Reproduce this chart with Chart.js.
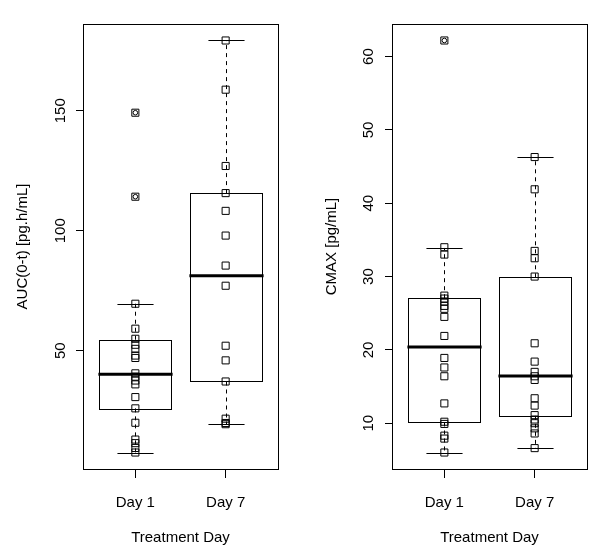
<!DOCTYPE html>
<html>
<head>
<meta charset="utf-8">
<title>AUC and CMAX by treatment day</title>
<script src="https://cdn.jsdelivr.net/npm/chart.js@4.4.1/dist/chart.umd.min.js"></script>
<style>
  html, body { margin: 0; padding: 0; background: #fff; }
  #wrap { position: relative; width: 600px; height: 558px; }
  .panel { position: absolute; top: 0; width: 300px; height: 558px; }
</style>
</head>
<body>
<div id="wrap">
  <div class="panel" style="left:0"><canvas id="auc" width="300" height="558"></canvas></div>
  <div class="panel" style="left:300px"><canvas id="cmax" width="300" height="558"></canvas></div>
</div>
<script>
'use strict';

var days = ['Day 1', 'Day 7'];

// AUC(0-t) panel, values
var aucDay1 = [69.6, 59.2, 55.0, 52.5, 50.8, 48.0, 47.0, 40.6, 39.2, 37.6, 36.0, 30.7, 26.0, 20.0, 13.0, 11.5, 9.5, 7.6, 149.2, 114.2];
var aucDay7 = [179.3, 158.8, 127.0, 115.7, 108.3, 98.0, 85.5, 77.1, 52.1, 46.0, 37.2, 21.7, 19.9, 19.4];
var aucOutliers = [[149.2, 114.2], []];
// lower whisker, q1, median, q3, upper whisker
var aucStats = [[7.6, 26.0, 40.2, 54.6, 69.6], [19.4, 37.2, 81.3, 115.7, 179.3]];
var aucTicks = [50, 100, 150];

// CMAX panel
var cmaxDay1 = [62.2, 34.0, 33.0, 27.4, 27.0, 26.6, 26.0, 25.6, 24.5, 21.9, 18.9, 17.6, 16.4, 12.7, 10.2, 9.9, 8.3, 7.9, 6.0];
var cmaxDay7 = [46.3, 41.9, 33.5, 32.5, 30.0, 20.9, 18.4, 17.0, 16.4, 15.9, 13.4, 12.4, 11.1, 10.5, 10.0, 9.3, 8.6, 6.6];
var cmaxOutliers = [[62.2], []];
var cmaxStats = [[6.0, 10.1, 20.4, 27.05, 33.9], [6.6, 11.0, 16.45, 29.9, 46.3]];
var cmaxTicks = [10, 20, 30, 40, 50, 60];

var FONT = { family: '"Liberation Sans", Arial, sans-serif', size: 15 };

// draws boxes, whiskers and the frame like R's boxplot()
var boxPlugin = {
  id: 'rbox',
  beforeDatasetsDraw: function(chart) {
    var stats = chart.options.plugins.rbox.stats;
    var xs = chart.scales.x;
    var ys = chart.scales.y;
    var ctx = chart.ctx;
    ctx.save();
    ctx.strokeStyle = '#000';
    for (var i = 0; i < stats.length; i++) {
      var s = stats[i];
      var xc = Math.round(xs.getPixelForValue(i + 1)) + 0.5;
      var half = xs.getPixelForValue(i + 1.4) - xs.getPixelForValue(i + 1);
      var cap = half / 2;
      var yLo = ys.getPixelForValue(s[0]);
      var yQ1 = ys.getPixelForValue(s[1]);
      var yMed = ys.getPixelForValue(s[2]);
      var yQ3 = ys.getPixelForValue(s[3]);
      var yHi = ys.getPixelForValue(s[4]);

      // whiskers
      ctx.lineWidth = 1;
      ctx.setLineDash([4, 4]);
      ctx.beginPath();
      ctx.moveTo(xc, yQ3); ctx.lineTo(xc, yHi);
      ctx.moveTo(xc, yQ1); ctx.lineTo(xc, yLo);
      ctx.stroke();
      ctx.setLineDash([]);
      // caps
      ctx.beginPath();
      ctx.moveTo(xc - cap, Math.round(yHi) + 0.5); ctx.lineTo(xc + cap, Math.round(yHi) + 0.5);
      ctx.moveTo(xc - cap, Math.round(yLo) + 0.5); ctx.lineTo(xc + cap, Math.round(yLo) + 0.5);
      ctx.stroke();
      // box
      ctx.strokeRect(Math.round(xc - half) + 0.5, Math.round(yQ3) + 0.5,
        Math.round(2 * half), Math.round(yQ1 - yQ3));
      // median
      ctx.lineWidth = 3;
      ctx.beginPath();
      ctx.moveTo(xc - half - 1, yMed); ctx.lineTo(xc + half + 1, yMed);
      ctx.stroke();
    }
    ctx.restore();
  },
  afterDraw: function(chart) {
    var a = chart.chartArea;
    var ctx = chart.ctx;
    ctx.save();
    ctx.strokeStyle = '#000';
    ctx.lineWidth = 1;
    ctx.strokeRect(Math.round(a.left) + 0.5, Math.round(a.top) + 0.5,
      Math.round(a.right - a.left), Math.round(a.bottom - a.top));
    ctx.restore();
  }
};

function makePanel(id, groups, outliers, stats, ticks, title, p) {
  var all = [];
  stats.forEach(function(s) { all.push(s[0], s[4]); });
  outliers.forEach(function(o) { all = all.concat(o); });
  var lo = Math.min.apply(null, all);
  var hi = Math.max.apply(null, all);
  var pad = (hi - lo) * 0.04;

  var datasets = groups.map(function(vals, i) {
    return {
      data: vals.map(function(v) { return { x: i + 1, y: v }; }),
      pointStyle: 'rect',
      pointRadius: 5,
      borderColor: '#000',
      borderWidth: 1,
      backgroundColor: 'transparent',
      showLine: false
    };
  });
  datasets.push({
    data: [].concat.apply([], outliers.map(function(o, i) {
      return o.map(function(v) { return { x: i + 1, y: v }; });
    })),
    pointStyle: 'circle',
    pointRadius: 2.3,
    borderColor: '#000',
    borderWidth: 1,
    backgroundColor: 'transparent',
    showLine: false
  });

  return new Chart(document.getElementById(id), {
    type: 'scatter',
    data: { datasets: datasets },
    plugins: [boxPlugin],
    options: {
      responsive: false,
      animation: false,
      events: [],
      layout: { padding: { left: 0, top: 24, right: p.right, bottom: 0 } },
      plugins: {
        legend: { display: false },
        tooltip: { enabled: false },
        rbox: { stats: stats }
      },
      scales: {
        x: {
          type: 'linear',
          min: 0.42,
          max: 2.58,
          afterBuildTicks: function(s) {
            s.ticks = days.map(function(d, i) { return { value: i + 1 }; });
          },
          afterFit: function(s) { s.height = 89; },
          ticks: {
            callback: function(v) { return days[v - 1]; },
            color: '#000',
            font: FONT,
            padding: 16,
            maxRotation: 0,
            autoSkip: false
          },
          grid: { drawOnChartArea: false, drawTicks: true, tickLength: 9, color: '#000' },
          border: { display: false },
          title: { display: true, text: 'Treatment Day', color: '#000', font: FONT, padding: { top: 0, bottom: 11 } }
        },
        y: {
          type: 'linear',
          min: lo - pad,
          max: hi + pad,
          afterBuildTicks: function(s) {
            s.ticks = ticks.map(function(t) { return { value: t }; });
          },
          afterFit: function(s) { s.width = p.left; },
          ticks: {
            color: '#000',
            font: FONT,
            minRotation: 90,
            maxRotation: 90,
            crossAlign: 'center',
            padding: p.tickPad
          },
          grid: { drawOnChartArea: false, drawTicks: true, tickLength: 7, color: '#000' },
          border: { display: false },
          title: { display: true, text: title, color: '#000', font: FONT, padding: { top: p.titlePad, bottom: 0 } }
        }
      }
    }
  });
}

makePanel('auc', [aucDay1, aucDay7], aucOutliers, aucStats, aucTicks, 'AUC(0-t) [pg.h/mL]',
  { left: 83, right: 22, tickPad: 3, titlePad: 14 });
makePanel('cmax', [cmaxDay1, cmaxDay7], cmaxOutliers, cmaxStats, cmaxTicks, 'CMAX [pg/mL]',
  { left: 92, right: 13, tickPad: 8, titlePad: 23 });
</script>
</body>
</html>
